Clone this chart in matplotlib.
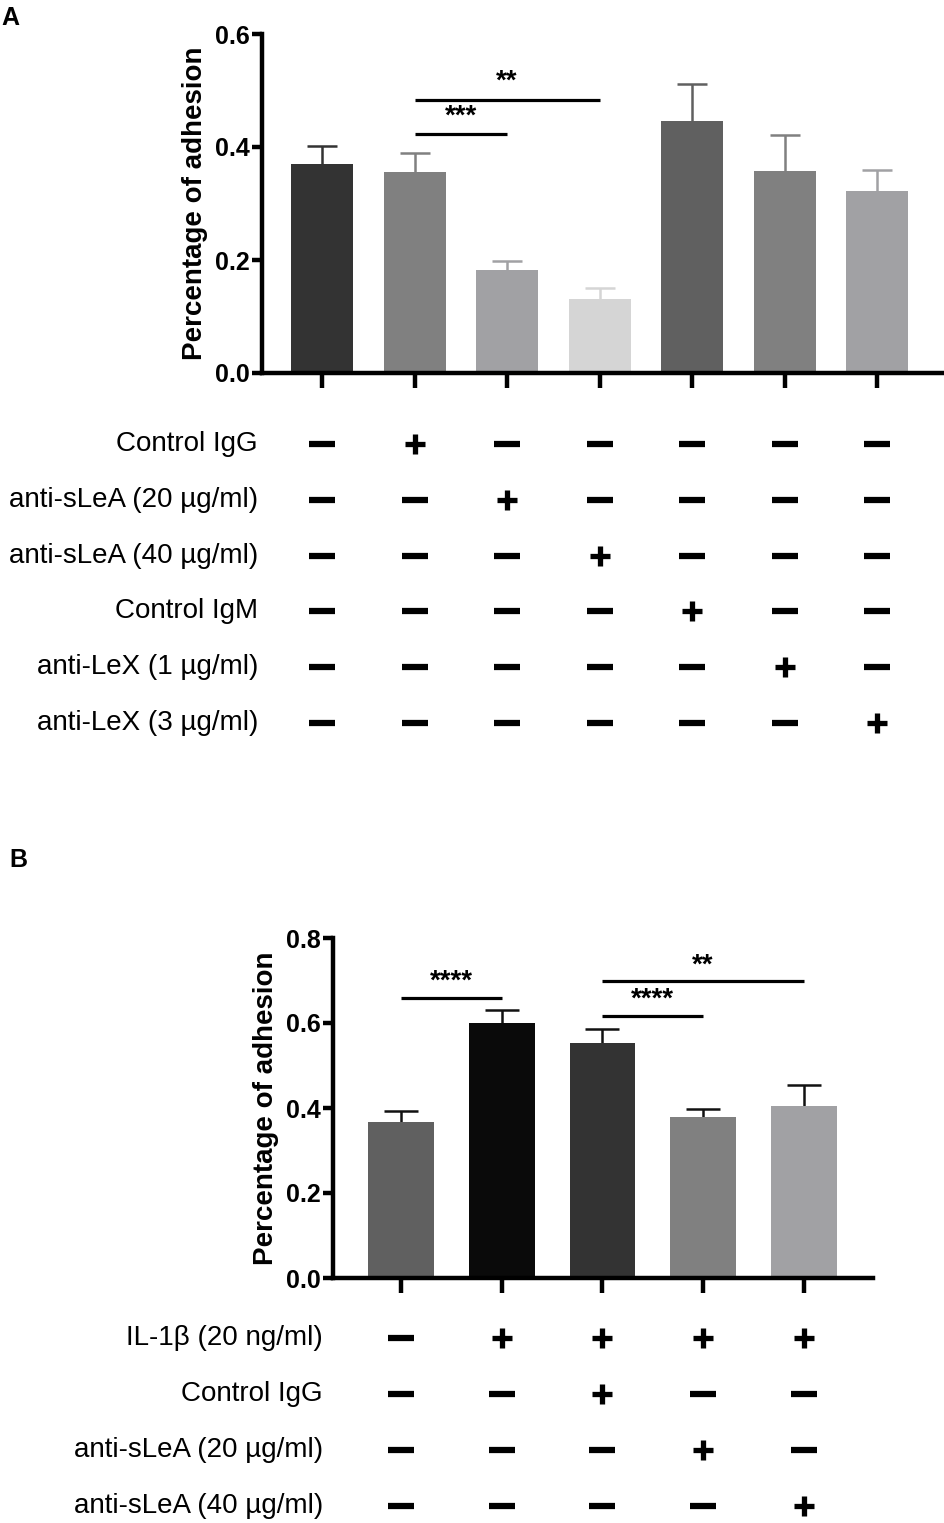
import matplotlib
matplotlib.use("Agg")
import matplotlib.pyplot as plt
import matplotlib.transforms as mtrans
import numpy as np

plt.rcParams['font.family'] = ['Liberation Sans', 'DejaVu Sans']

# panel A data
a_means = [0.370, 0.355, 0.182, 0.131, 0.446, 0.357, 0.322]
a_err = [0.032, 0.034, 0.016, 0.020, 0.066, 0.064, 0.038]
a_colors = ['#333333', '#808080', '#a1a1a4', '#d5d5d5', '#606060', '#808080', '#a1a1a4']
a_rows = ['Control IgG', 'anti-sLeA (20 µg/ml)', 'anti-sLeA (40 µg/ml)',
          'Control IgM', 'anti-LeX (1 µg/ml)', 'anti-LeX (3 µg/ml)']
# which group gets "+" for each row (group 0 is untreated)
a_plus = [1, 2, 3, 4, 5, 6]
a_sig = [(1, 2, 0.423, '***'), (1, 3, 0.484, '**')]

# panel B data
b_means = [0.367, 0.601, 0.554, 0.378, 0.404]
b_err = [0.026, 0.030, 0.032, 0.019, 0.049]
b_colors = ['#606060', '#0a0a0a', '#333333', '#808080', '#a1a1a4']
b_rows = ['IL-1β (20 ng/ml)', 'Control IgG', 'anti-sLeA (20 µg/ml)', 'anti-sLeA (40 µg/ml)']
b_table = [[0, 1, 1, 1, 1],
           [0, 0, 1, 0, 0],
           [0, 0, 0, 1, 0],
           [0, 0, 0, 0, 1]]
b_sig = [(0, 1, 0.660, '****'), (2, 3, 0.617, '****'), (2, 4, 0.699, '**')]

W, H = 945, 1523
fig = plt.figure(figsize=(W / 100, H / 100), dpi=100)


def px_axes(x0, x1, ytop, ybot):
    return fig.add_axes([x0 / W, 1 - ybot / H, (x1 - x0) / W, (ybot - ytop) / H])


def style_bar_axes(ax, ymax, step):
    for s in ['top', 'right']:
        ax.spines[s].set_visible(False)
    for s in ['left', 'bottom']:
        ax.spines[s].set_linewidth(3.2)
        ax.spines[s].set_color('black')
    ax.set_ylim(0, ymax)
    ax.set_yticks(np.arange(0, ymax + 1e-9, step))
    ax.set_yticklabels(['%.1f' % v for v in np.arange(0, ymax + 1e-9, step)],
                       fontsize=18, fontweight='bold')
    ax.tick_params(axis='y', length=7, width=3.2, pad=2)
    ax.tick_params(axis='x', length=11, width=3.2, labelbottom=False)
    ax.set_ylabel('Percentage of adhesion', fontsize=20, fontweight='bold', labelpad=5)


def draw_bars(ax, means, errs, colors, width, ecolors, cap):
    x = np.arange(len(means))
    for k in range(len(means)):
        ax.bar(x[k], means[k], width=width, color=colors[k], zorder=2)
        _, caps, _ = ax.errorbar(x[k], means[k], yerr=[[0], [errs[k]]], color=ecolors[k],
                                 lw=1.8, capsize=cap, capthick=1.8, zorder=1)
        caps[0].set_visible(False)
    ax.set_xticks(x)


def draw_sig(ax, sig, off):
    for i, j, y, txt in sig:
        ax.plot([i, j], [y, y], color='black', lw=2.3, solid_capstyle='butt')
        ax.text((i + j) / 2, y + off, txt, ha='center', va='center',
                fontsize=20, fontweight='bold')


def draw_table(tax, rows, table, label_x):
    tax.set_ylim(len(rows) - 0.5, -0.5)
    tax.axis('off')
    tr = mtrans.blended_transform_factory(fig.transFigure, tax.transData)
    for r, name in enumerate(rows):
        tax.text(label_x / W, r, name, transform=tr, ha='right', va='center', fontsize=20)
        for g in range(len(table[r])):
            if table[r][g]:
                tax.plot(g, r, marker='+', ms=14, mew=3.8, color='black', clip_on=False)
            else:
                tax.plot(g, r, marker='_', ms=19, mew=4.5, color='black', clip_on=False)


# ---- panel A ----
axA = px_axes(262, 945, 34, 373)
draw_bars(axA, a_means, a_err, a_colors, 0.67, a_colors, 11)
axA.set_xlim(-0.65, 6.735)
style_bar_axes(axA, 0.6, 0.2)
draw_sig(axA, a_sig, 0.031)

a_table = [[1 if g == a_plus[r] else 0 for g in range(len(a_means))] for r in range(len(a_rows))]
tA = px_axes(262, 945, 416, 751)
tA.set_xlim(axA.get_xlim())
draw_table(tA, a_rows, a_table, 258)

fig.text(1 / W, 1 - 18 / H, 'A', fontsize=18, fontweight='bold', va='center', ha='left')

# ---- panel B ----
axB = px_axes(333, 873, 938, 1278)
draw_bars(axB, b_means, b_err, b_colors, 0.656, ['#111111'] * len(b_means), 12)
axB.set_xlim(-0.68, 4.69)
style_bar_axes(axB, 0.8, 0.2)
draw_sig(axB, b_sig, 0.037)

tB = px_axes(333, 873, 1310, 1534)
tB.set_xlim(axB.get_xlim())
draw_table(tB, b_rows, b_table, 323)

fig.text(9 / W, 1 - 860 / H, 'B', fontsize=18, fontweight='bold', va='center', ha='left')

fig.savefig('out.png', dpi=100)
